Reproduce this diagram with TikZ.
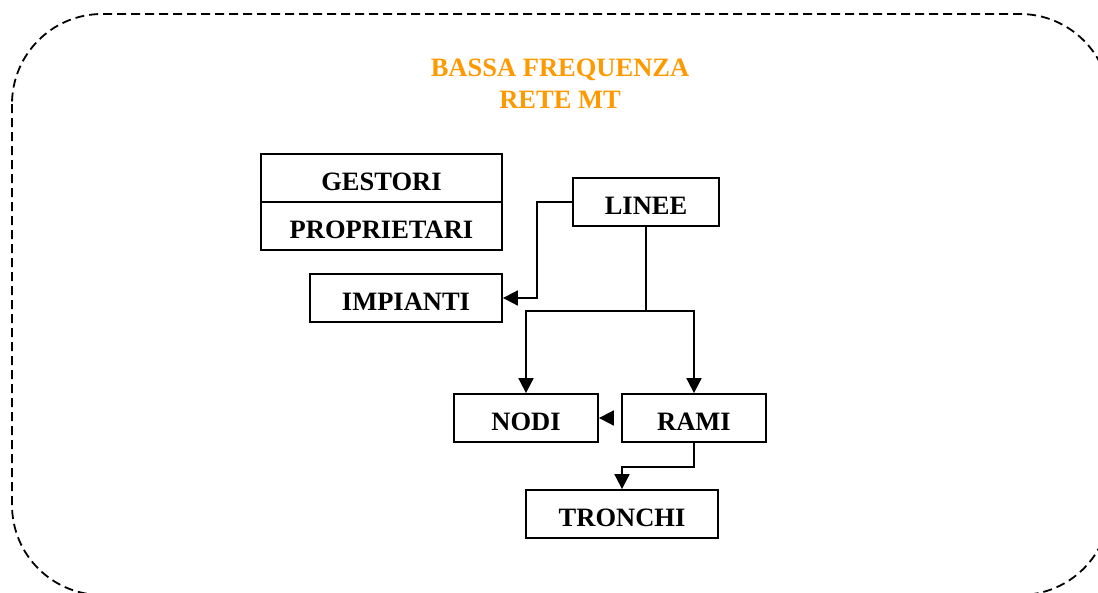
\documentclass[tikz,border=0pt]{standalone}
\usepackage{fontspec}
\setmainfont{Liberation Serif}
\usetikzlibrary{arrows.meta}
\definecolor{arancio}{RGB}{255,153,0}
\tikzset{
	blocco/.style={draw, line width=1.8pt, inner sep=0pt, minimum height=48pt, text height=24.5pt, text depth=0pt, font=\fontsize{26.5}{30}\selectfont\bfseries},
	freccia/.style={line width=1.8pt, -{Triangle[length=15pt,width=15pt]}},
	linea/.style={line width=1.8pt}
}
\begin{document}
\begin{tikzpicture}[x=1pt, y=-1pt]
\useasboundingbox (0,0) rectangle (1098,592);
\draw[line width=1.8pt, dash pattern=on 9pt off 5pt, rounded corners=90pt] (12,14) rectangle (1110,595);
\node[anchor=north, align=center, inner sep=0pt, text=arancio, font=\fontsize{26.5}{32}\selectfont\bfseries] (titolo) at (560,59) {BASSA FREQUENZA\\RETE MT};
\node[blocco, minimum width=241pt] (gestori) at (381.5,178) {GESTORI};
\node[blocco, minimum width=241pt] (proprietari) at (381.5,226) {PROPRIETARI};
\node[blocco, minimum width=146pt] (linee) at (646,202) {LINEE};
\node[blocco, minimum width=192pt] (impianti) at (406,298) {IMPIANTI};
\node[blocco, minimum width=144pt] (nodi) at (526,418) {NODI};
\node[blocco, minimum width=144pt] (rami) at (694,418) {RAMI};
\node[blocco, minimum width=192pt] (tronchi) at (622,514) {TRONCHI};
\coordinate (biforca) at (646,311);
\draw[freccia] (linee.west) -- ++(-35,0) |- (impianti.east);
\draw[linea] (linee.south) -- (biforca);
\draw[freccia] (biforca) -| (nodi.north);
\draw[freccia] (biforca) -| (rami.north);
\draw[freccia, shorten <=8pt] (rami.west) -- (nodi.east);
\draw[freccia] (rami.south) -- ++(0,24) -| (tronchi.north);
\end{tikzpicture}
\end{document}
